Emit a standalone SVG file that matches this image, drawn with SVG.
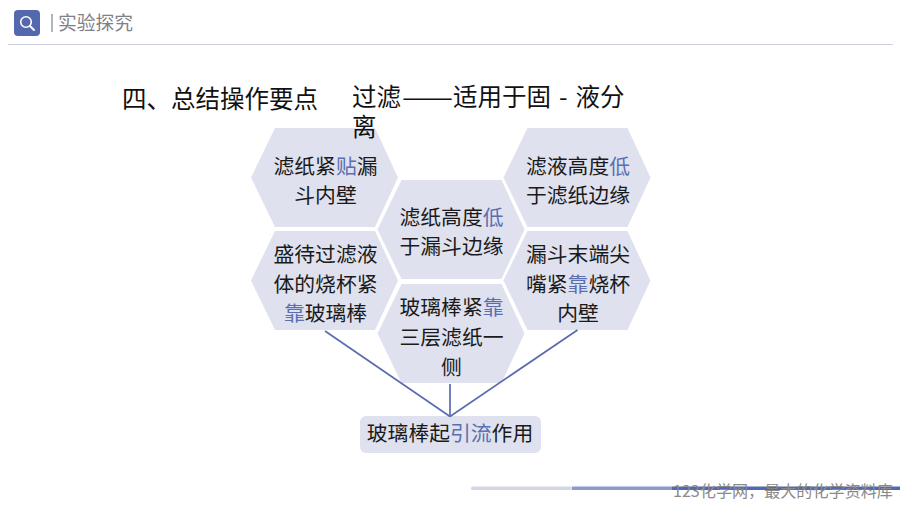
<svg xmlns="http://www.w3.org/2000/svg" width="900" height="506" viewBox="0 0 900 506">
<defs>
<style>
text{font-family:"Noto Sans CJK SC","Noto Sans",sans-serif;fill:#1a1a1a}
.hex{fill:#dfe1ef}
.t{font-size:20.8px;text-anchor:middle}
.a{fill:#5a6fb0}
.title{font-size:24.5px;fill:#111}
.conn{stroke:#5a6bb0;stroke-width:1.7;fill:none}
</style>
<polygon id="hexshape" points="-74,0 -50,-49.5 50,-49.5 73,0 50,49.5 -50,49.5"/>
</defs>
<rect width="900" height="506" fill="#fff"/>
<g id="header">
<rect x="14" y="10" width="26" height="26" rx="4" fill="#5468ad"/>
<circle cx="26" cy="22" r="5.3" fill="none" stroke="#fff" stroke-width="1.6"/>
<line x1="30" y1="26" x2="34" y2="30" stroke="#fff" stroke-width="2" stroke-linecap="round"/>
<rect x="51" y="14" width="2" height="18" fill="#b4b4be"/>
<text x="58" y="30" style="font-size:18.8px;fill:#7f7f88">实验探究</text>
<rect x="8" y="44" width="885" height="1" fill="#cfcfe0"/>
</g>
<g id="node-a">
<use href="#hexshape" class="hex" transform="translate(325 177.5)"/>
<text class="t" x="325.5" y="174">滤纸紧<tspan class="a">贴</tspan>漏</text>
<text class="t" x="325.5" y="203">斗内壁</text>
</g>
<g id="node-b">
<use href="#hexshape" class="hex" transform="translate(451.5 229.5)"/>
<text class="t" x="451.5" y="225">滤纸高度<tspan class="a">低</tspan></text>
<text class="t" x="451.5" y="254">于漏斗边缘</text>
</g>
<g id="node-c">
<use href="#hexshape" class="hex" transform="translate(577.5 177.5)"/>
<text class="t" x="578" y="174">滤液高度<tspan class="a">低</tspan></text>
<text class="t" x="578" y="203">于滤纸边缘</text>
</g>
<g id="node-d">
<use href="#hexshape" class="hex" transform="translate(325 280.5)"/>
<text class="t" x="325.5" y="262">盛待过滤液</text>
<text class="t" x="325.5" y="292">体的烧杯紧</text>
<text class="t" x="325.5" y="321"><tspan class="a">靠</tspan>玻璃棒</text>
</g>
<g id="node-e">
<use href="#hexshape" class="hex" transform="translate(451.5 333.5)"/>
<text class="t" x="451.5" y="315">玻璃棒紧<tspan class="a">靠</tspan></text>
<text class="t" x="451.5" y="345">三层滤纸一</text>
<text class="t" x="451.5" y="375">侧</text>
</g>
<g id="node-f">
<use href="#hexshape" class="hex" transform="translate(577.5 280.5)"/>
<text class="t" x="578" y="262">漏斗末端尖</text>
<text class="t" x="578" y="292">嘴紧<tspan class="a">靠</tspan>烧杯</text>
<text class="t" x="578" y="321">内壁</text>
</g>
<g id="node-g">
<rect x="360" y="416" width="181" height="37" rx="6" class="hex"/>
<text class="t" x="450" y="441">玻璃棒起<tspan class="a">引流</tspan>作用</text>
</g>
<g id="connectors">
<line class="conn" x1="325" y1="331" x2="450" y2="416.5"/>
<line class="conn" x1="450" y1="384" x2="450" y2="416.5"/>
<line class="conn" x1="577.5" y1="330" x2="450" y2="416.5"/>
</g>
<g id="title">
<text class="title" x="122" y="108">四、总结操作要点</text>
<text class="title" x="352" y="106">过滤<tspan x="402" textLength="51" lengthAdjust="spacingAndGlyphs">——</tspan><tspan x="453">适用于固 </tspan><tspan x="559">- </tspan><tspan x="575.5">液分</tspan></text>
<text class="title" x="352" y="136">离</text>
</g>
<g id="footer">
<rect x="471" y="486.5" width="101" height="3.5" rx="1.7" fill="#d5d6e4"/>
<rect x="572" y="486.5" width="100" height="3.5" fill="#8d9acb"/>
<rect x="672" y="486.5" width="228" height="3.5" fill="#5468ad"/>
<text x="673" y="497" style="font-size:16.1px;fill:#8a8a8a">123化学网，最大的化学资料库</text>
</g>
</svg>
